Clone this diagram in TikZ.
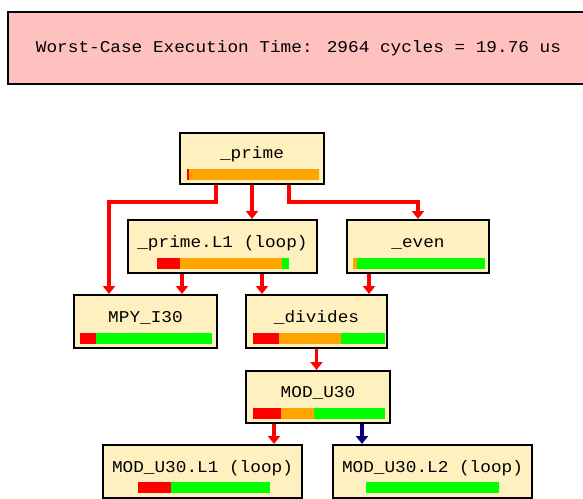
\documentclass[tikz,border=0pt]{standalone}
\usepackage{fontspec}
\newfontfamily\wfont[FakeStretch=1.075]{Liberation Mono}
\usetikzlibrary{arrows.meta}
\definecolor{boxfill}{RGB}{255,240,192}
\definecolor{topfill}{RGB}{255,192,192}
\definecolor{cred}{RGB}{255,0,0}
\definecolor{corange}{RGB}{255,165,0}
\definecolor{cgreen}{RGB}{0,255,0}
\definecolor{cblue}{RGB}{0,0,128}
\newcommand\segbar[6]{%
  \fill[cred] ([shift={(#2,#3)}]#1.north west) rectangle ++(#4,11);
  \fill[corange] ([shift={(#2+#4,#3)}]#1.north west) rectangle ++(#5,11);
  \fill[cgreen] ([shift={(#2+#4+#5,#3)}]#1.north west) rectangle ++(#6,11);
}
\begin{document}
\begin{tikzpicture}[x=1pt,y=-1pt,
  lbl/.style={font=\wfont\fontsize{16.5}{16.5}\selectfont},
  box/.style={draw=black, line width=2pt, fill=boxfill, inner sep=0pt,
    anchor=north west, lbl, text height=27pt, text depth=26pt,
    minimum height=0pt, minimum width=#1},
  arr/.style={draw=cred, line width=3.3pt, -{Triangle[width=12pt,length=8pt]}},
  barr/.style={arr, draw=cblue}
]
\useasboundingbox (0,0) rectangle (583,498);
\clip (0,0) rectangle (583,498);

\node[draw=black, line width=2pt, fill=topfill, inner sep=0pt, anchor=north west,
  lbl, minimum width=581, minimum height=72] (wcet) at (7,11)
  {Worst-Case Execution Time: 2964 cycles = 19.76 us};

\node[box=144, text height=25pt, text depth=26pt] (prime) at (179,132) {\_prime};
\node[box=189] (primeL1) at (127,219) {\_prime.L1 (loop)};
\node[box=142] (even) at (346,219) {\_even};
\node[box=143] (mpy) at (73,294) {MPY\_I30};
\node[box=141] (divides) at (245,294) {\_divides};
\node[box=144, text height=26pt, text depth=26pt] (modu) at (245,370) {MOD\_U30};
\node[box=199] (modL1) at (102,444) {MOD\_U30.L1 (loop)};
\node[box=199] (modL2) at (332,444) {MOD\_U30.L2 (loop)};

\segbar{prime}{8}{37}{2}{130}{0}
\segbar{primeL1}{30}{39}{23}{102}{7}
\segbar{even}{7}{39}{0}{4}{128}
\segbar{mpy}{7}{39}{16}{0}{116}
\segbar{divides}{8}{39}{26}{62}{44}
\segbar{modu}{8}{38}{28}{33}{71}
\segbar{modL1}{36}{38}{33}{0}{99}
\segbar{modL2}{34}{38}{0}{0}{133}

\draw[arr] ([xshift=37]prime.south west) -- ++(0,17) -| ([xshift=36]mpy.north west);
\draw[arr] (prime.south) -- (prime.south |- primeL1.north);
\draw[arr] ([xshift=110]prime.south west) -- ++(0,17) -| (even.north);
\draw[arr] ([xshift=55]primeL1.south west) -- ([xshift=55]primeL1.south west |- mpy.north);
\draw[arr] ([xshift=135]primeL1.south west) -- ([xshift=135]primeL1.south west |- divides.north);
\draw[arr] ([xshift=23]even.south west) -- ([xshift=23]even.south west |- divides.north);
\draw[arr] (divides.south) -- (divides.south |- modu.north);
\draw[arr] ([xshift=29]modu.south west) -- ([xshift=29]modu.south west |- modL1.north);
\draw[barr] ([xshift=117]modu.south west) -- ([xshift=117]modu.south west |- modL2.north);
\end{tikzpicture}
\end{document}
